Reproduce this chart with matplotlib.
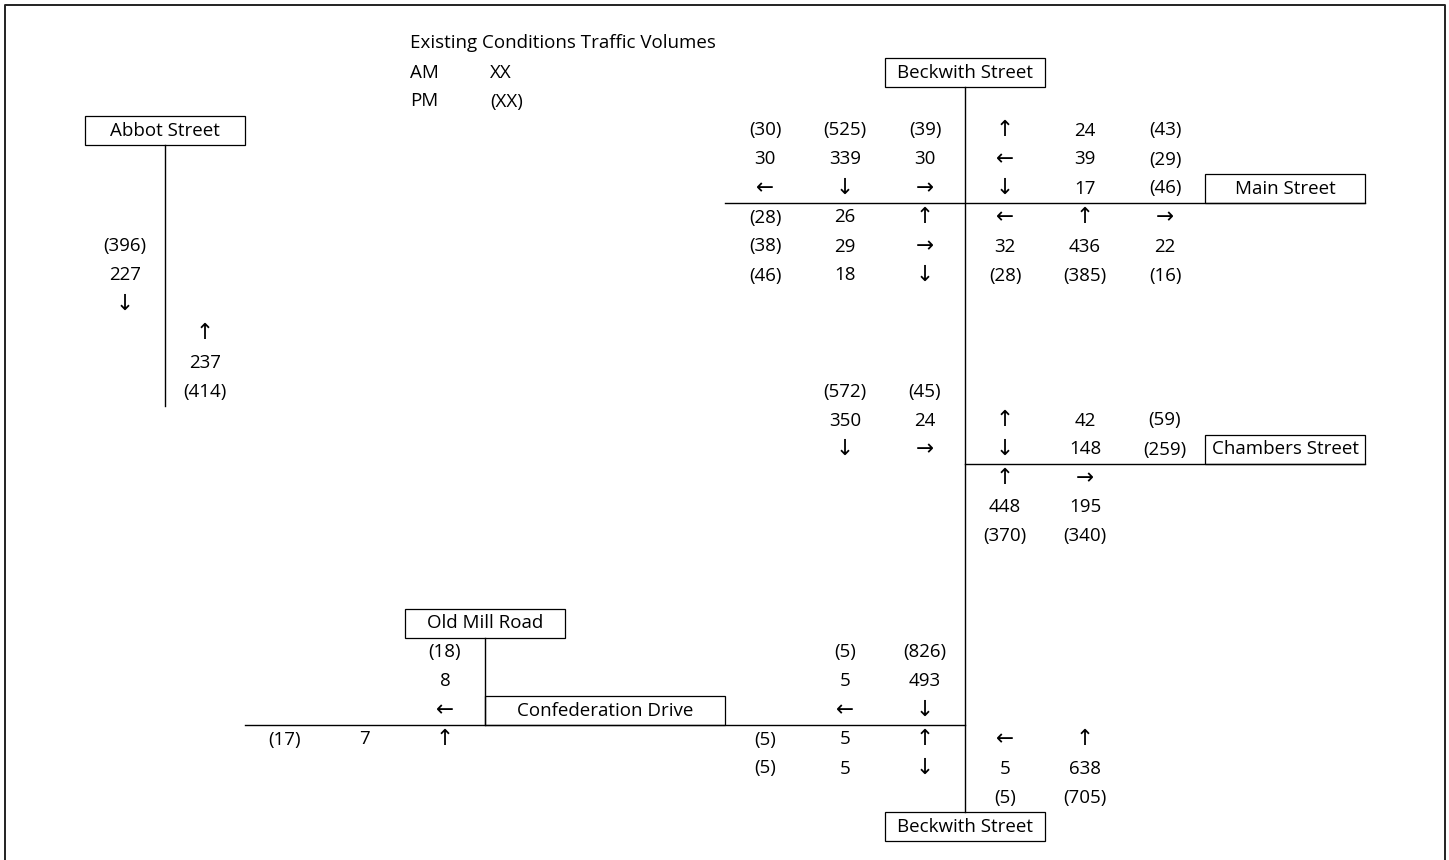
import matplotlib
matplotlib.use("Agg")
import matplotlib.pyplot as plt
from matplotlib.patches import Rectangle

plt.rcParams['font.family'] = ['Open Sans', 'DejaVu Sans']

# ---- traffic volumes (AM, PM) per approach, movements listed with arrows ----
# Beckwith Street / Main Street
main_sb_arrows = ['←', '↓', '→']
main_sb_am = [30, 339, 30]
main_sb_pm = [30, 525, 39]
main_wb_arrows = ['↑', '←', '↓']
main_wb_am = [24, 39, 17]
main_wb_pm = [43, 29, 46]
main_eb_arrows = ['↑', '→', '↓']
main_eb_am = [26, 29, 18]
main_eb_pm = [28, 38, 46]
main_nb_arrows = ['←', '↑', '→']
main_nb_am = [32, 436, 22]
main_nb_pm = [28, 385, 16]

# Beckwith Street / Chambers Street
chambers_sb_arrows = ['↓', '→']
chambers_sb_am = [350, 24]
chambers_sb_pm = [572, 45]
chambers_wb_arrows = ['↑', '↓']
chambers_wb_am = [42, 148]
chambers_wb_pm = [59, 259]
chambers_nb_arrows = ['↑', '→']
chambers_nb_am = [448, 195]
chambers_nb_pm = [370, 340]

# Abbot Street
abbot_sb_arrows = ['↓']
abbot_sb_am = [227]
abbot_sb_pm = [396]
abbot_nb_arrows = ['↑']
abbot_nb_am = [237]
abbot_nb_pm = [414]

# Beckwith Street / Confederation Drive
confed_sb_arrows = ['←', '↓']
confed_sb_am = [5, 493]
confed_sb_pm = [5, 826]
confed_eb_arrows = ['↑', '↓']
confed_eb_am = [5, 5]
confed_eb_pm = [5, 5]
confed_nb_arrows = ['←', '↑']
confed_nb_am = [5, 638]
confed_nb_pm = [5, 705]

# Old Mill Road / Confederation Drive
oldmill_sb_arrows = ['←']
oldmill_sb_am = [8]
oldmill_sb_pm = [18]
oldmill_eb_arrows = ['↑']
oldmill_eb_am = [7]
oldmill_eb_pm = [17]

# ---- sheet grid (pixels) ----
W, H = 1449, 860
X0, CW = 5, 80      # column origin / width
Y0, RH = 29, 29     # row origin / height
FS = 13.5
ARROWS = set('←↑→↓')


def cx(c):
    return X0 + CW * c + CW / 2


def ry(r):
    return Y0 + RH * r + RH / 2


fig = plt.figure(figsize=(W / 100, H / 100), dpi=100)
ax = fig.add_axes([0, 0, 1, 1])
ax.set_xlim(0, W)
ax.set_ylim(H, 0)
ax.axis('off')


def cell(c, r, s, ha='center'):
    x = cx(c) if ha == 'center' else X0 + CW * c + 5
    size = FS + 2 if s in ARROWS else FS
    ax.text(x, ry(r), s, ha=ha, va='center', fontsize=size, color='black')


def pm(v):
    return '(%d)' % v


def stack(c, r, arrows, am, pmv, from_north=True):
    # one column per movement, rows: PM / AM / arrow (reversed for NB)
    for i, (a, v1, v2) in enumerate(zip(arrows, am, pmv)):
        rows = [pm(v2), str(v1), a] if from_north else [a, str(v1), pm(v2)]
        for j, s in enumerate(rows):
            cell(c + i, r + j, s)


def side(c, r, arrows, am, pmv, from_east=True):
    # one row per movement, columns: arrow / AM / PM (reversed for EB)
    for i, (a, v1, v2) in enumerate(zip(arrows, am, pmv)):
        cols = [a, str(v1), pm(v2)] if from_east else [pm(v2), str(v1), a]
        for j, s in enumerate(cols):
            cell(c + j, r + i, s)


def box(c, r, ncols, label):
    ax.add_patch(Rectangle((X0 + CW * c, Y0 + RH * r), CW * ncols, RH,
                           fill=False, lw=0.9, edgecolor='black'))
    ax.text(X0 + CW * (c + ncols / 2), ry(r), label, ha='center', va='center',
            fontsize=FS)


def hline(r_edge, c0, c1):
    ax.plot([X0 + CW * c0, X0 + CW * c1], [Y0 + RH * r_edge] * 2, color='black', lw=1.0)


def vline(c_edge, r0, r1):
    ax.plot([X0 + CW * c_edge] * 2, [Y0 + RH * r0, Y0 + RH * r1], color='black', lw=1.0)


# frame
ax.plot([X0, X0, X0 + CW * 18, X0 + CW * 18], [H, X0, X0, H], color='#222222', lw=1.4)

# legend
cell(5, 0, 'Existing Conditions Traffic Volumes', ha='left')
cell(5, 1, 'AM', ha='left')
cell(6, 1, 'XX', ha='left')
cell(5, 2, 'PM', ha='left')
cell(6, 2, '(XX)', ha='left')

# roads
vline(12, 2, 27)          # Beckwith Street
vline(2, 4, 13)           # Abbot Street
vline(6, 21, 24)          # Old Mill Road
hline(6, 9, 17)           # Main Street
hline(15, 12, 17)         # Chambers Street
hline(24, 3, 12)          # Confederation Drive

# street names
box(11, 1, 2, 'Beckwith Street')
box(1, 3, 2, 'Abbot Street')
box(15, 5, 2, 'Main Street')
box(15, 14, 2, 'Chambers Street')
box(5, 20, 2, 'Old Mill Road')
box(6, 23, 3, 'Confederation Drive')
box(11, 27, 2, 'Beckwith Street')

# volumes
stack(9, 3, main_sb_arrows, main_sb_am, main_sb_pm)
side(12, 3, main_wb_arrows, main_wb_am, main_wb_pm)
side(9, 6, main_eb_arrows, main_eb_am, main_eb_pm, from_east=False)
stack(12, 6, main_nb_arrows, main_nb_am, main_nb_pm, from_north=False)

stack(10, 12, chambers_sb_arrows, chambers_sb_am, chambers_sb_pm)
side(12, 13, chambers_wb_arrows, chambers_wb_am, chambers_wb_pm)
stack(12, 15, chambers_nb_arrows, chambers_nb_am, chambers_nb_pm, from_north=False)

stack(1, 7, abbot_sb_arrows, abbot_sb_am, abbot_sb_pm)
stack(2, 10, abbot_nb_arrows, abbot_nb_am, abbot_nb_pm, from_north=False)

stack(10, 21, confed_sb_arrows, confed_sb_am, confed_sb_pm)
side(9, 24, confed_eb_arrows, confed_eb_am, confed_eb_pm, from_east=False)
stack(12, 24, confed_nb_arrows, confed_nb_am, confed_nb_pm, from_north=False)

stack(5, 21, oldmill_sb_arrows, oldmill_sb_am, oldmill_sb_pm)
side(3, 24, oldmill_eb_arrows, oldmill_eb_am, oldmill_eb_pm, from_east=False)

fig.savefig('out.png', dpi=100, facecolor='white')
